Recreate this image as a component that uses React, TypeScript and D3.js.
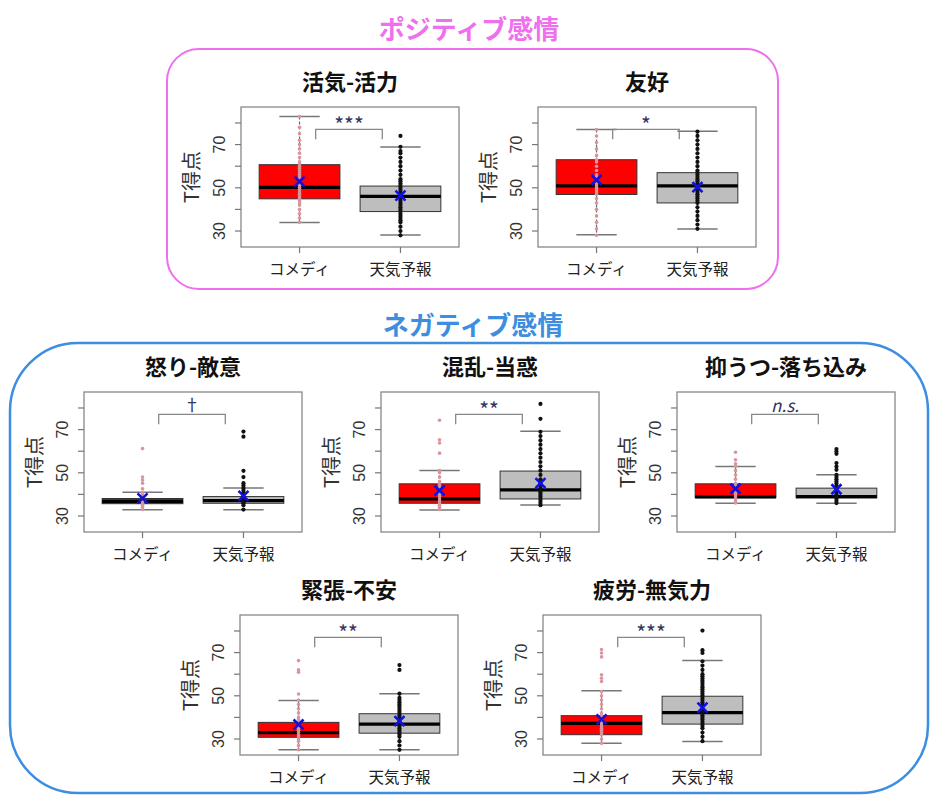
import React from 'react';
import * as d3 from 'd3';

// group headers
const sectionTitles = ['ポジティブ感情', 'ネガティブ感情'];
const groupLabels = ['コメディ', '天気予報'];

// one entry per panel
const panelTitles = ['活気-活力', '友好', '怒り-敵意', '混乱-当惑', '抑うつ-落ち込み', '緊張-不安', '疲労-無気力'];
const sigLabels = ['***', '*', '†', '**', 'n.s.', '**', '***'];

// [lower whisker, Q1, median, Q3, upper whisker, mean] for comedy / weather
const comedyStats = [
  [33.9, 44.9, 50.2, 60.7, 83.0, 52.9],
  [28.3, 46.9, 50.9, 63.0, 77.0, 53.6],
  [32.9, 35.7, 36.8, 38.1, 41.0, 38.2],
  [32.8, 35.9, 37.9, 44.9, 51.1, 41.8],
  [35.9, 38.5, 38.8, 44.9, 52.9, 42.6],
  [25.0, 30.8, 33.0, 37.7, 47.8, 36.7],
  [28.0, 32.0, 37.2, 40.8, 52.3, 39.1],
];
const weatherStats = [
  [28.1, 39.0, 46.0, 50.8, 68.9, 46.4],
  [30.9, 43.0, 50.9, 57.0, 76.2, 50.3],
  [32.9, 35.9, 37.1, 39.0, 43.0, 39.3],
  [35.1, 37.9, 42.1, 50.8, 69.2, 45.2],
  [35.9, 38.4, 39.0, 42.9, 49.1, 42.4],
  [25.0, 32.7, 36.9, 41.7, 50.9, 38.3],
  [28.9, 36.9, 42.2, 49.8, 66.3, 44.5],
];

// individual scores (strip chart)
const comedyPoints = [
  [34, 36, 38, 40, 42, 43, 44, 45, 46, 47, 48, 49, 50, 50, 51, 52, 53, 54, 55, 56, 57, 58, 59, 60, 61, 62, 64, 66, 68, 70, 72, 75, 78, 83],
  [28, 31, 34, 37, 40, 43, 45, 47, 48, 49, 50, 51, 52, 53, 54, 55, 56, 58, 60, 62, 63, 65, 68, 71, 74, 77],
  [33, 34, 35, 36, 36, 37, 37, 38, 39, 40, 41, 42.6, 45.2, 46.7, 48, 61.2],
  [33, 34, 35, 36, 37, 38, 39, 40, 41, 42, 43, 44, 45, 46, 48, 50, 51, 59.1, 63.8, 65.3, 74.3],
  [36, 37, 38, 39, 40, 41, 42, 43, 44, 45, 47, 49, 51, 53, 54.2, 56, 59.5],
  [25, 27, 29, 30, 31, 32, 33, 34, 35, 36, 37, 38, 39, 40, 42, 44, 46, 48, 50.8, 60.9, 62, 66.3],
  [28, 30, 32, 33, 34, 35, 36, 37, 38, 39, 40, 41, 42, 44, 46, 48, 50, 52, 56.6, 58.1, 59.7, 68, 69.8, 71.4],
];
const weatherPoints = [
  [28, 30, 32, 34, 35, 36, 37, 38, 39, 40, 41, 42, 43, 44, 45, 46, 47, 48, 49, 50, 51, 52, 53, 54, 56, 58, 60, 62, 64, 66, 67, 69, 74],
  [31, 33, 35, 37, 39, 41, 43, 44, 45, 46, 47, 48, 49, 50, 51, 52, 53, 54, 55, 56, 57, 58, 60, 62, 64, 66, 68, 70, 72, 74, 76],
  [33, 35, 36, 36, 37, 37, 38, 39, 40, 41, 42, 43, 44.1, 45.2, 48, 50.9, 66.7, 69.1],
  [35, 36, 37, 38, 39, 40, 41, 42, 43, 44, 45, 47, 49, 51, 53, 55, 57, 59, 61, 63, 65, 67, 69, 75, 81.9],
  [36, 37, 38, 39, 40, 41, 42, 43, 44, 45, 46, 47, 48, 49, 51.4, 52.9, 54.5, 58.8, 59.9, 61],
  [25, 27, 29, 31, 32, 33, 34, 35, 36, 37, 38, 39, 40, 41, 42, 43, 44, 45, 46, 47, 48, 49, 51, 62, 64.2],
  [29, 31, 33, 35, 36, 37, 38, 39, 40, 41, 42, 43, 44, 45, 46, 47, 48, 49, 50, 51, 52, 53, 54, 55, 56, 57, 58, 59, 60, 62, 64, 66, 69.8, 71.1, 80.2],
];

const yTicks = [30, 40, 50, 60, 70, 80];
const yTickLabels = [30, 50, 70];
const yLimits = [25, 85];
const bracketSpan = [1.16, 1.82];
const bracketLevels = [72.5, 77];

// plot rectangles (left, top) on the page
const panelPos = [
  [241, 107], [538, 107],
  [84, 392], [381, 392], [677, 392],
  [240, 615], [543, 615],
];
const PW = 218;
const PH = 140;

const FONT = '"Noto Sans CJK JP", "Noto Sans", sans-serif';
const NUMFONT = '"Liberation Sans", Arial, sans-serif';

// size / baseline of the significance mark
const sigStyle = (s: string) => {
  if (s.startsWith('*')) return { size: 21, base: 75.4, italic: false };
  if (s === 'n.s.') return { size: 17, base: 78.0, italic: true };
  return { size: 17, base: 78.4, italic: false };
};

const Panel = ({ i }: { i: number }) => {
  const [left, top] = panelPos[i];
  const pad = (yLimits[1] - yLimits[0]) * 0.04;
  const y = d3.scaleLinear().domain([yLimits[0] - pad, yLimits[1] + pad]).range([top + PH, top]);
  const x = d3.scaleLinear().domain([0.42, 2.58]).range([left, left + PW]);
  const stats = [comedyStats[i], weatherStats[i]];
  const pts = [comedyPoints[i], weatherPoints[i]];
  const fills = ['#ff0000', '#bebebe'];
  const ptColor = ['#d9959e', '#111'];
  const sig = sigStyle(sigLabels[i]);

  return (
    <g>
      <text x={left + PW / 2} y={top - 17} textAnchor="middle" fontFamily={FONT} fontWeight="bold" fontSize={22} fill="#111">
        {panelTitles[i]}
      </text>
      {stats.map((s, g) => {
        const cx = x(g + 1);
        const bw = x(1.4) - x(1);
        const cw = x(1.2) - x(1);
        const [lo, q1, med, q3, hi, mean] = s;
        return (
          <g key={g}>
            <line x1={cx} x2={cx} y1={y(hi)} y2={y(q3)} stroke="#666" strokeWidth={1.2} strokeDasharray="3,2" />
            <line x1={cx} x2={cx} y1={y(q1)} y2={y(lo)} stroke="#666" strokeWidth={1.2} strokeDasharray="3,2" />
            <line x1={cx - cw} x2={cx + cw} y1={y(hi)} y2={y(hi)} stroke="#777" strokeWidth={1.5} />
            <line x1={cx - cw} x2={cx + cw} y1={y(lo)} y2={y(lo)} stroke="#777" strokeWidth={1.5} />
            <rect x={cx - bw} y={y(q3)} width={bw * 2} height={y(q1) - y(q3)} fill={fills[g]} stroke="#333" strokeWidth={1} />
            <line x1={cx - bw} x2={cx + bw} y1={y(med)} y2={y(med)} stroke="#000" strokeWidth={3.2} />
            {pts[g].map((v, k) => (
              <circle key={k} cx={cx} cy={y(v)} r={g === 0 ? 1.8 : 2.1} fill={ptColor[g]} />
            ))}
            <path
              d={`M${cx - 5},${y(mean) - 5}L${cx + 5},${y(mean) + 5}M${cx - 5},${y(mean) + 5}L${cx + 5},${y(mean) - 5}`}
              stroke="#1010e0"
              strokeWidth={2.6}
            />
          </g>
        );
      })}
      <path
        d={`M${x(bracketSpan[0])},${y(bracketLevels[0])}V${y(bracketLevels[1])}H${x(bracketSpan[1])}V${y(bracketLevels[0])}`}
        fill="none"
        stroke="#888"
        strokeWidth={1.3}
      />
      <text
        x={x((bracketSpan[0] + bracketSpan[1]) / 2)}
        y={y(sig.base)}
        textAnchor="middle"
        fontFamily={FONT}
        fontStyle={sig.italic ? 'italic' : 'normal'}
        fontSize={sig.size}
        fill="#33335e"
      >
        {sigLabels[i]}
      </text>
      <rect x={left} y={top} width={PW} height={PH} fill="none" stroke="#888" strokeWidth={1.3} />
      {yTicks.map((t) => (
        <line key={t} x1={left - 6} x2={left} y1={y(t)} y2={y(t)} stroke="#777" strokeWidth={1.2} />
      ))}
      {yTickLabels.map((t) => (
        <text
          key={t}
          transform={`translate(${left - 22},${y(t)}) rotate(-90)`}
          dy="0.36em"
          textAnchor="middle"
          fontFamily={NUMFONT}
          fontSize={16}
          fill="#333"
        >
          {t}
        </text>
      ))}
      <text
        transform={`translate(${left - 49},${top + PH / 2}) rotate(-90)`}
        dy="0.36em"
        textAnchor="middle"
        fontFamily={FONT}
        fontSize={20}
        fill="#333"
      >
        T得点
      </text>
      {groupLabels.map((lab, g) => (
        <g key={lab}>
          <line x1={x(g + 1)} x2={x(g + 1)} y1={top + PH} y2={top + PH + 6} stroke="#777" strokeWidth={1.2} />
          <text x={x(g + 1)} y={top + PH + 28} textAnchor="middle" fontFamily={FONT} fontSize={15.5} fill="#222">
            {lab}
          </text>
        </g>
      ))}
    </g>
  );
};

export default function App() {
  return (
    <svg width={938} height={809} style={{ position: 'absolute', left: 0, top: 0, background: '#fff' }}>
      <rect x={167} y={49} width={611} height={240} rx={32} ry={32} fill="none" stroke="#ef70ee" strokeWidth={2} />
      <text x={469} y={39} textAnchor="middle" fontFamily={FONT} fontWeight="bold" fontSize={26} fill="#ef70ee">
        {sectionTitles[0]}
      </text>
      <rect x={10} y={343} width={918} height={450} rx={68} ry={68} fill="none" stroke="#3d8ee0" strokeWidth={2.5} />
      <text x={473} y={335} textAnchor="middle" fontFamily={FONT} fontWeight="bold" fontSize={26} fill="#3d8ee0">
        {sectionTitles[1]}
      </text>
      {panelTitles.map((_, i) => (
        <Panel key={i} i={i} />
      ))}
    </svg>
  );
}
